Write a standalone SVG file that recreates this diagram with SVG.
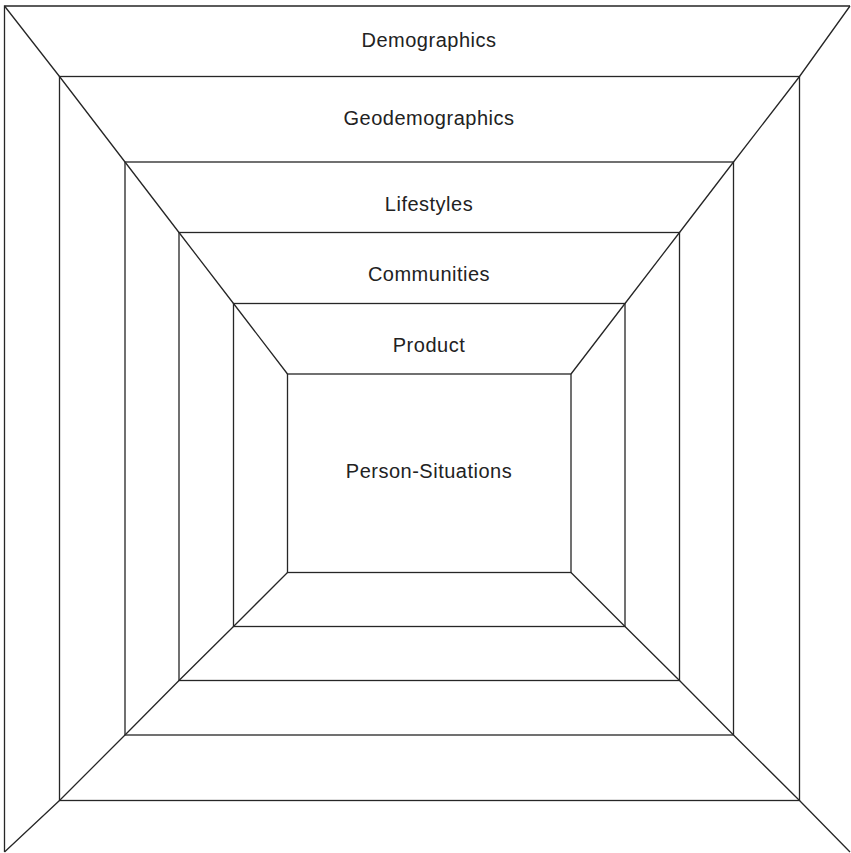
<svg xmlns="http://www.w3.org/2000/svg" width="851" height="853" viewBox="0 0 851 853">
<style>
.ln{fill:none;stroke:#262626;stroke-width:1.3}
.lb{font-family:"Liberation Sans",Arial,sans-serif;font-size:20px;fill:#222;text-anchor:middle;letter-spacing:0.5px}
</style>
<rect width="851" height="853" fill="#fff"/>
<g id="connectors">
<polyline class="ln" points="4.5,6 59.5,76.5 125,162 179,232.5 233.5,303.5 287.5,374"/>
<polyline class="ln" points="850,6 799.5,76.5 733.5,162 679.5,232.5 625,303.5 571,374"/>
<polyline class="ln" points="4.5,852 59.5,800.5 125,735 179,680.5 233.5,626.5 287.5,572.5"/>
<polyline class="ln" points="850,852 799.5,800.5 733.5,735 679.5,680.5 625,626.5 571,572.5"/>
</g>
<g id="demographics">
<polyline class="ln" points="4.5,852 4.5,6 850,6"/>
<text class="lb" x="429" y="47">Demographics</text>
</g>
<g id="geodemographics">
<rect class="ln" x="59.5" y="76.5" width="740" height="724"/>
<text class="lb" x="429" y="125">Geodemographics</text>
</g>
<g id="lifestyles">
<rect class="ln" x="125" y="162" width="608.5" height="573"/>
<text class="lb" x="429" y="211">Lifestyles</text>
</g>
<g id="communities">
<rect class="ln" x="179" y="232.5" width="500.5" height="448"/>
<text class="lb" x="429" y="281">Communities</text>
</g>
<g id="product">
<rect class="ln" x="233.5" y="303.5" width="391.5" height="323"/>
<text class="lb" x="429" y="352">Product</text>
</g>
<g id="person-situations">
<rect class="ln" x="287.5" y="374" width="283.5" height="198.5"/>
<text class="lb" x="429" y="478">Person-Situations</text>
</g>
</svg>
